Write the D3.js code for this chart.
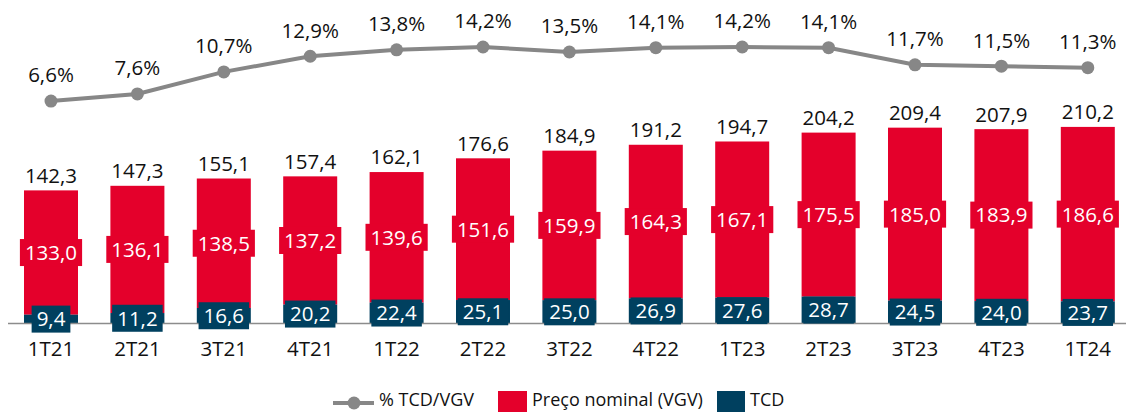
<!DOCTYPE html>
<html>
<head>
<meta charset="utf-8">
<script src="https://cdn.jsdelivr.net/npm/d3@7"></script>
<style>
  body { margin: 0; background: #fff; }
  text { font-family: "Open Sans", sans-serif; }
</style>
</head>
<body>
<div id="vis"></div>
<script>
// quarters shown on the x axis
var quarters = ["1T21", "2T21", "3T21", "4T21", "1T22", "2T22", "3T22", "4T22", "1T23", "2T23", "3T23", "4T23", "1T24"];
// stacked series (bottom: TCD, top: Preço nominal)
var tcd = [9.4, 11.2, 16.6, 20.2, 22.4, 25.1, 25.0, 26.9, 27.6, 28.7, 24.5, 24.0, 23.7];
var vgv = [133.0, 136.1, 138.5, 137.2, 139.6, 151.6, 159.9, 164.3, 167.1, 175.5, 185.0, 183.9, 186.6];
// totals printed above the bars
var totals = [142.3, 147.3, 155.1, 157.4, 162.1, 176.6, 184.9, 191.2, 194.7, 204.2, 209.4, 207.9, 210.2];
// % TCD/VGV line
var pct = [6.6, 7.6, 10.7, 12.9, 13.8, 14.2, 13.5, 14.1, 14.2, 14.1, 11.7, 11.5, 11.3];

var width = 1126, height = 412;
var red = "#E4002B", blue = "#00405F", gray = "#878787";

// numbers use a comma as decimal separator
function br(v) { return d3.format(".1f")(v).replace(".", ","); }

var svg = d3.select("#vis").append("svg")
  .attr("width", width)
  .attr("height", height);

var x = d3.scaleBand()
  .domain(quarters)
  .range([7.8, 1131])
  .paddingInner(0.375)
  .paddingOuter(0.1875);

var y = d3.scaleLinear()
  .domain([0, 210.2])
  .range([323.5, 127]);

// separate scale for the percentage line above the bars
var yPct = d3.scaleLinear()
  .domain([0, 14.2])
  .range([148, 47]);

var rows = quarters.map(function(q, i) {
  return { q: q, tcd: tcd[i], vgv: vgv[i], total: totals[i], pct: pct[i] };
});

// bars
var bars = svg.append("g").attr("class", "bars");
bars.selectAll("rect.vgv")
  .data(rows).enter().append("rect")
  .attr("class", "vgv")
  .attr("x", function(d) { return x(d.q); })
  .attr("width", x.bandwidth())
  .attr("y", function(d) { return y(d.tcd + d.vgv); })
  .attr("height", function(d) { return y(d.tcd) - y(d.tcd + d.vgv); })
  .style("fill", red);

bars.selectAll("rect.tcd")
  .data(rows).enter().append("rect")
  .attr("class", "tcd")
  .attr("x", function(d) { return x(d.q); })
  .attr("width", x.bandwidth())
  .attr("y", function(d) { return y(d.tcd); })
  .attr("height", function(d) { return y(0) - y(d.tcd); })
  .style("fill", blue);

// baseline
svg.append("line")
  .attr("x1", 8).attr("x2", width)
  .attr("y1", y(0)).attr("y2", y(0))
  .style("stroke", "#8c8c8c")
  .style("stroke-width", 1.5);

// category labels
var xAxis = svg.append("g")
  .attr("transform", "translate(0," + y(0) + ")")
  .call(d3.axisBottom(x).tickSize(0).tickPadding(18));
xAxis.select(".domain").remove();
xAxis.selectAll("text")
  .style("font-family", "'Open Sans', sans-serif")
  .style("font-size", "20.5px")
  .style("fill", "#111");

// boxed value labels inside the segments
function boxLabel(g, cx, cy, txt, fill) {
  var t = g.append("text")
    .attr("x", cx).attr("y", cy)
    .attr("text-anchor", "middle")
    .attr("dy", "0.36em")
    .style("font-size", "20.5px")
    .style("fill", "#fff")
    .text(txt);
  var w = t.node().getComputedTextLength() + 10;
  g.insert("rect", "text")
    .attr("x", cx - w / 2).attr("y", cy - 13.5)
    .attr("width", w).attr("height", 27)
    .style("fill", fill);
}

var labels = svg.append("g").attr("class", "labels");
rows.forEach(function(d) {
  var cx = x(d.q) + x.bandwidth() / 2;
  var g1 = labels.append("g");
  boxLabel(g1, cx, (y(d.tcd) + y(d.tcd + d.vgv)) / 2, br(d.vgv), red);
  var g2 = labels.append("g");
  boxLabel(g2, cx, (y(0) + y(d.tcd)) / 2, br(d.tcd), blue);
});

// totals above bars
svg.append("g").selectAll("text")
  .data(rows).enter().append("text")
  .attr("x", function(d) { return x(d.q) + x.bandwidth() / 2; })
  .attr("y", function(d) { return y(d.tcd + d.vgv) - 15; })
  .attr("dy", "0.36em")
  .attr("text-anchor", "middle")
  .style("font-size", "20.5px")
  .style("fill", "#111")
  .text(function(d) { return br(d.total); });

// percentage line
var line = d3.line()
  .x(function(d) { return x(d.q) + x.bandwidth() / 2; })
  .y(function(d) { return yPct(d.pct); });

svg.append("path")
  .datum(rows)
  .attr("d", line)
  .style("fill", "none")
  .style("stroke", gray)
  .style("stroke-width", 4);

svg.append("g").selectAll("circle")
  .data(rows).enter().append("circle")
  .attr("cx", function(d) { return x(d.q) + x.bandwidth() / 2; })
  .attr("cy", function(d) { return yPct(d.pct); })
  .attr("r", 6.5)
  .style("fill", gray);

svg.append("g").selectAll("text")
  .data(rows).enter().append("text")
  .attr("x", function(d) { return x(d.q) + x.bandwidth() / 2; })
  .attr("y", function(d) { return yPct(d.pct) - 26; })
  .attr("dy", "0.36em")
  .attr("text-anchor", "middle")
  .style("font-size", "20.5px")
  .style("fill", "#111")
  .text(function(d) { return br(d.pct) + "%"; });

// legend
var legend = svg.append("g").attr("class", "legend").style("font-size", "18px");
legend.append("line")
  .attr("x1", 333).attr("x2", 374).attr("y1", 403).attr("y2", 403)
  .style("stroke", gray).style("stroke-width", 4);
legend.append("circle").attr("cx", 354).attr("cy", 403).attr("r", 6.5).style("fill", gray);
legend.append("text").attr("x", 379).attr("y", 400).attr("dy", "0.36em").style("fill", "#111").text("% TCD/VGV");

legend.append("rect").attr("x", 498).attr("y", 391).attr("width", 29).attr("height", 25).style("fill", red);
legend.append("text").attr("x", 532).attr("y", 400).attr("dy", "0.36em").style("fill", "#111").text("Preço nominal (VGV)");

legend.append("rect").attr("x", 717).attr("y", 391).attr("width", 28).attr("height", 25).style("fill", blue);
legend.append("text").attr("x", 750).attr("y", 400).attr("dy", "0.36em").style("fill", "#111").text("TCD");
</script>
</body>
</html>
